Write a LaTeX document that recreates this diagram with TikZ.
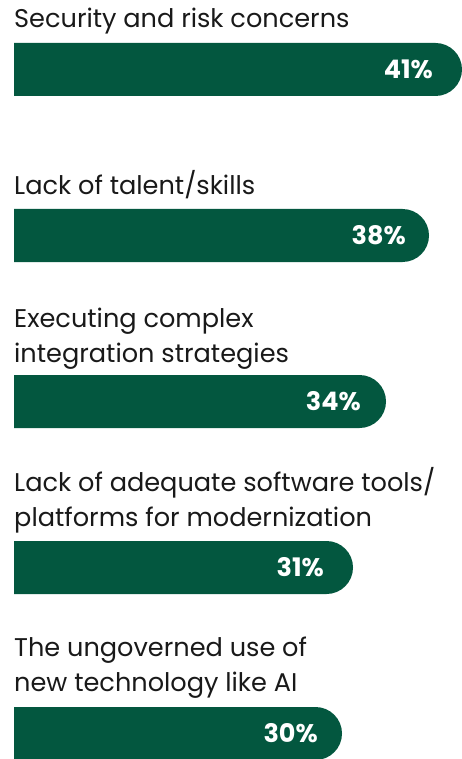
\documentclass[tikz,border=0pt]{standalone}
\usepackage{fontspec}
\setmainfont{Poppins}
\usepackage{tikz}

\begin{document}
\begin{tikzpicture}[x=1pt,y=-1pt]

\def\xl{14}
\def\barh{53}
\def\rad{26.5}
\def\gap{166}

% Colours
\definecolor{barcolor}{RGB}{3,87,63}
\colorlet{labelcolor}{black!90}

% Styles
\tikzstyle{label text}=[anchor=base west, inner sep=0, align=left, text=labelcolor,
  font=\fontsize{25.6}{34.5}\selectfont]
\tikzstyle{pct text}=[anchor=east, inner sep=0, text=white,
  font=\fontsize{25.5}{28}\selectfont\bfseries]

\useasboundingbox (0,0) rectangle (462,759);

% Bars
\foreach \i/\xr/\xp/\val in {0/462/433/41, 1/429/406/38, 2/386/361/34, 3/353/324/31, 4/342/318/30}{
  \pgfmathsetmacro{\ytop}{43+\gap*\i}
  \fill[barcolor] (\xl,\ytop) -- (\xr-\rad,\ytop)
    arc(-90:90:\rad) -- (\xl,\ytop+\barh) -- cycle;
  \node[pct text] (pct\val) at (\xp, \ytop+\barh/2) {\val\%};
}

% Labels (base = last line)
\node[label text] (security) at (\xl,28) {Security and risk concerns};
\node[label text] (talent) at (\xl,195) {Lack of talent/skills};
\node[label text] (integration) at (\xl,362) {Executing complex\\integration strategies};
\node[label text] (tools) at (\xl,526) {Lack of adequate software tools/\\platforms for modernization};
\node[label text] (ungoverned) at (\xl,691) {The ungoverned use of\\new technology like AI};

\end{tikzpicture}
\end{document}
